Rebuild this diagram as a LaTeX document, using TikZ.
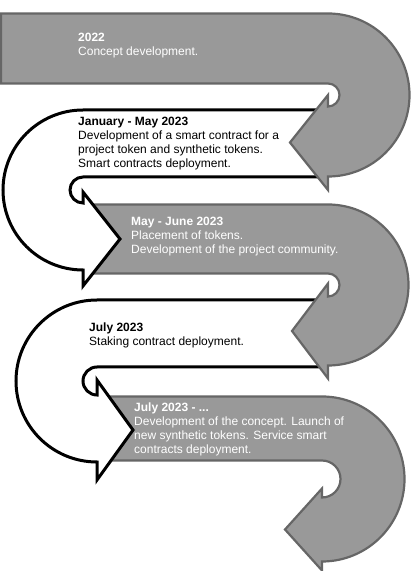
\documentclass[tikz,border=0pt]{standalone}
\usepackage{fontspec}
\setmainfont{Liberation Sans}
\usepackage{tikz}
\usepackage{xcolor}
\definecolor{stepgray}{HTML}{999999}
\definecolor{stepedge}{HTML}{666666}

\begin{document}
\begin{tikzpicture}[x=1pt, y=1pt,
    graystep/.style={fill=stepgray, draw=stepedge, line width=2.2pt},
    whitestep/.style={fill=white, draw=black, line width=3pt},
    steplabel/.style={anchor=north west, inner sep=0pt, align=left, font=\fontsize{12}{14}\selectfont}]
    \useasboundingbox (0,0) rectangle (411,571);

    % lowest band first, each next band lies on top
    \draw[graystep] (102,174.5) -- (322,174.5) arc[start angle=90, end angle=-90, radius=82.5]
        -- (322,0.5) -- (285,41.5) -- (322,82.5) -- (322,73.5)
        arc[start angle=-90, end angle=90, radius=18.5] -- (102,110.5) -- cycle;
    \draw[whitestep] (325,271) -- (97,271) arc[start angle=90, end angle=270, radius=81]
        -- (97,91) -- (133,141) -- (97,191) -- (97,176)
        arc[start angle=270, end angle=90, radius=14] -- (325,204) -- cycle;
    \draw[graystep] (87,366.5) -- (328,366.5) arc[start angle=90, end angle=-90, radius=80.5]
        -- (328,192.5) -- (292,240) -- (328,287.5) -- (328,274.5)
        arc[start angle=-90, end angle=90, radius=11.5] -- (87,297.5) -- cycle;
    \draw[whitestep] (325,461) -- (83,461) arc[start angle=90, end angle=270, radius=80]
        -- (83,285) -- (120,332) -- (83,379) -- (83,368)
        arc[start angle=270, end angle=90, radius=13] -- (325,394) -- cycle;
    \draw[graystep] (1,557.5) -- (328,557.5) arc[start angle=90, end angle=-90, radius=81.5]
        -- (328,381) -- (290,428.5) -- (328,476) -- (328,464.5)
        arc[start angle=-90, end angle=90, radius=11.5] -- (1,487.5) -- cycle;

    \node[steplabel, text=white] (year2022) at (78,538) {\textbf{2022}\\Concept development.};
    \node[steplabel] (jan2023) at (78,454) {\textbf{January - May 2023}\\Development of a smart contract for a\\project token and synthetic tokens.\\Smart contracts deployment.};
    \node[steplabel, text=white] (may2023) at (131,354) {\textbf{May - June 2023}\\Placement of tokens.\\Development of the project community.};
    \node[steplabel] (jul2023) at (89,248) {\textbf{July 2023}\\Staking contract deployment.};
    \node[steplabel, text=white] (jul2023on) at (134,168) {\textbf{July 2023 - ...}\\Development of the concept. Launch of\\new synthetic tokens. Service smart\\contracts deployment.};
\end{tikzpicture}
\end{document}
